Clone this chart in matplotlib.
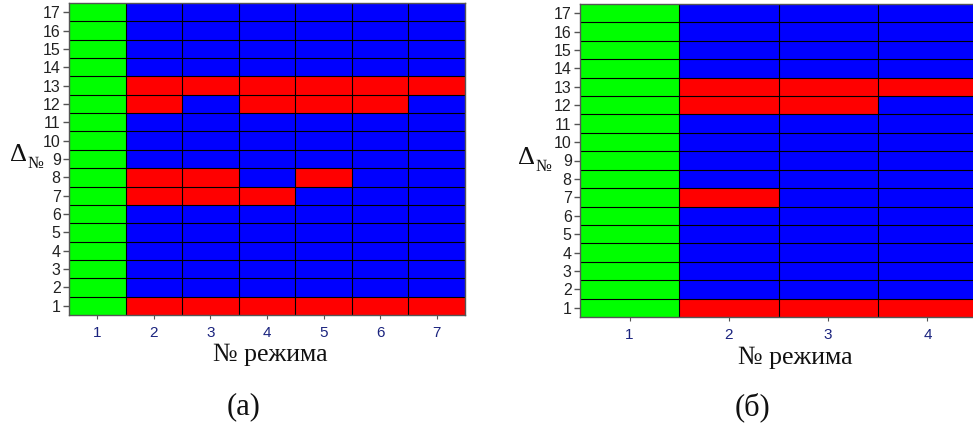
import numpy as np
import matplotlib
matplotlib.use("Agg")
import matplotlib.pyplot as plt
from matplotlib.colors import ListedColormap

# 0 = green, 1 = blue, 2 = red
rows = list(range(1, 18))
modes_a = [1, 2, 3, 4, 5, 6, 7]
modes_b = [1, 2, 3, 4]

# grid_a[row-1][mode-1]
grid_a = [[0] + [1] * 6 for _ in rows]
grid_a[0] = [0, 2, 2, 2, 2, 2, 2]     # row 1
grid_a[6] = [0, 2, 2, 2, 1, 1, 1]     # row 7
grid_a[7] = [0, 2, 2, 1, 2, 1, 1]     # row 8
grid_a[11] = [0, 2, 1, 2, 2, 2, 1]    # row 12
grid_a[12] = [0, 2, 2, 2, 2, 2, 2]    # row 13

grid_b = [[0, 1, 1, 1] for _ in rows]
grid_b[0] = [0, 2, 2, 2]
grid_b[6] = [0, 2, 1, 1]
grid_b[11] = [0, 2, 2, 1]
grid_b[12] = [0, 2, 2, 2]

cmap = ListedColormap(["#00ff00", "#0000ff", "#ff0000"])

W, H = 973, 429
fig = plt.figure(figsize=(W / 100, H / 100), dpi=100)

def fx(px):
    return px / W

def fy(py):
    return 1 - py / H

def panel(rect, modes, grid):
    ax = fig.add_axes(rect)
    m = np.array(grid)
    xe = np.arange(len(modes) + 1) + 0.5
    ye = np.arange(len(rows) + 1) + 0.5
    ax.pcolormesh(xe, ye, m, cmap=cmap, vmin=-0.5, vmax=2.5,
                  edgecolors="none")
    for x in xe[1:-1]:
        ax.axvline(x, color="black", lw=0.8, zorder=2)
    for y in ye[1:-1]:
        ax.axhline(y, color="black", lw=0.8, zorder=2)
    ax.set_xlim(xe[0], xe[-1])
    ax.set_ylim(ye[0], ye[-1])
    ax.set_xticks(modes)
    ax.set_xticklabels([str(v) for v in modes])
    ax.set_yticks(rows)
    ax.set_yticklabels([str(v) for v in rows])
    ax.tick_params(axis="x", colors="#555555", labelcolor="#1a237e",
                   labelsize=11, length=3, width=0.8, pad=5)
    ax.tick_params(axis="y", colors="#555555", labelcolor="#222222",
                   labelsize=11.5, length=4, width=1.0, pad=2)
    for lbl in ax.get_xticklabels() + ax.get_yticklabels():
        lbl.set_family("Liberation Sans")
    for s in ax.spines.values():
        s.set_color("#555555")
        s.set_linewidth(1.0)
    return ax

axa = panel([fx(69), fy(315), fx(396), fy(3) - fy(315)], modes_a, grid_a)
axb = panel([fx(580), fy(317), fx(397), fy(4) - fy(317)], modes_b, grid_b)

serif = "Liberation Serif"
# axis labels
fig.text(fx(270), fy(355), "№ режима", family=serif, fontsize=18.5,
         ha="center", va="center", color="#111111")
fig.text(fx(795), fy(358), "№ режима", family=serif, fontsize=18.5,
         ha="center", va="center", color="#111111")
fig.text(fx(10), fy(155), "Δ", family=serif, fontsize=19,
         ha="left", va="center", color="#111111")
fig.text(fx(27), fy(164), "№", family=serif, fontsize=12,
         ha="left", va="center", color="#111111")
fig.text(fx(518), fy(158), "Δ", family=serif, fontsize=19,
         ha="left", va="center", color="#111111")
fig.text(fx(535), fy(167), "№", family=serif, fontsize=12,
         ha="left", va="center", color="#111111")

# captions
fig.text(fx(244), fy(407), "(a)", family=serif, fontsize=22,
         ha="center", va="center", color="#111111")
fig.text(fx(752), fy(407), "(б)", family=serif, fontsize=22,
         ha="center", va="center", color="#111111")

fig.savefig("out.png", dpi=100)
